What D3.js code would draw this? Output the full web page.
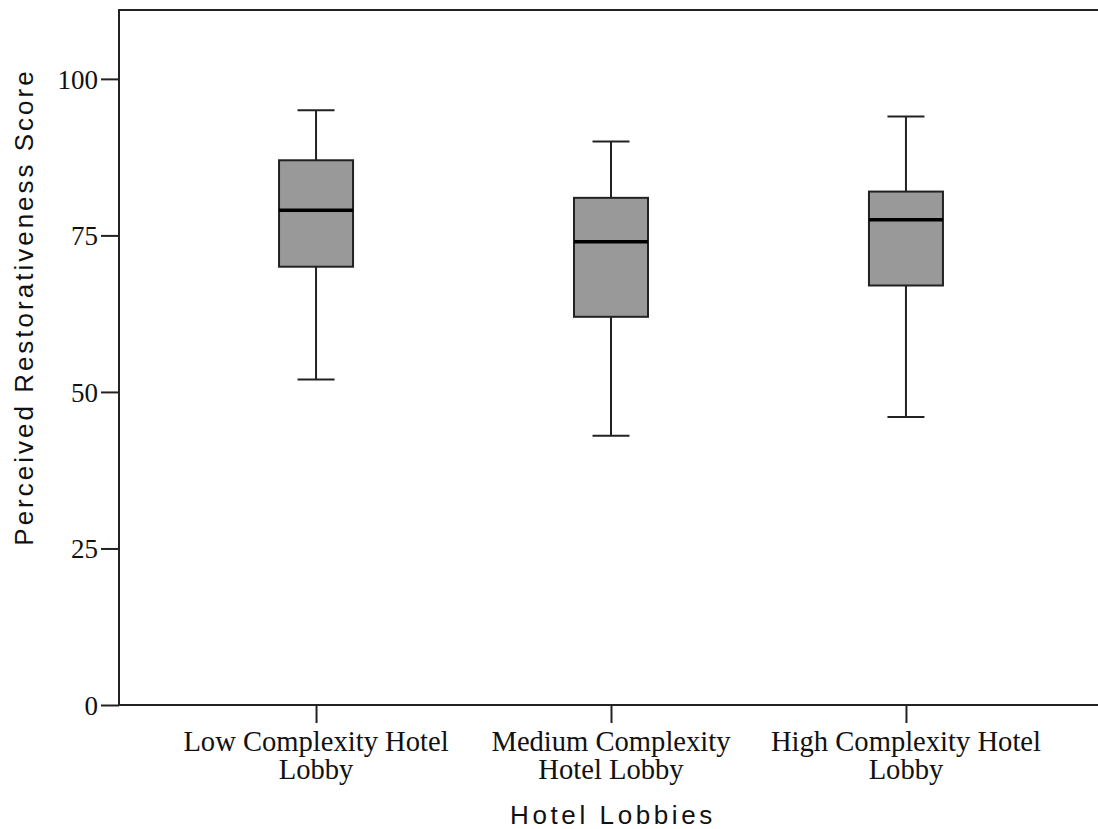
<!DOCTYPE html>
<html>
<head>
<meta charset="utf-8">
<script src="https://cdn.jsdelivr.net/npm/d3@7"></script>
<style>
  body { margin: 0; background: #fff; }
  svg { display: block; }
</style>
</head>
<body>
<svg id="chart" width="1098" height="829"></svg>
<script>
// box plot data
var categories = [
  ["Low Complexity Hotel", "Lobby"],
  ["Medium Complexity", "Hotel Lobby"],
  ["High Complexity Hotel", "Lobby"]
];
var whiskerLow = [52, 43, 46];
var q1 = [70, 62, 67];
var medians = [79, 74, 77.5];
var q3 = [87, 81, 82];
var whiskerHigh = [95, 90, 94];
var yTicks = [0, 25, 50, 75, 100];

var svg = d3.select("#chart");
var margin = { left: 119, top: 10, right: 1103, bottom: 705 };

var y = d3.scaleLinear().domain([0, 111]).range([margin.bottom, margin.top]);
var x = d3.scalePoint()
  .domain(d3.range(categories.length))
  .range([margin.left, margin.right])
  .padding(0.668);

var boxWidth = 74;
var capWidth = 37;

// frame
svg.append("rect")
  .attr("x", margin.left)
  .attr("y", margin.top)
  .attr("width", margin.right - margin.left)
  .attr("height", margin.bottom - margin.top)
  .attr("fill", "none")
  .attr("stroke", "#222")
  .attr("stroke-width", 2);

// y axis
var yAxis = svg.append("g")
  .attr("transform", "translate(" + margin.left + ",0)")
  .call(d3.axisLeft(y).tickValues(yTicks).tickSize(18).tickPadding(3).tickFormat(d3.format("d")));
yAxis.select(".domain").remove();
yAxis.selectAll("line").attr("stroke", "#222").attr("stroke-width", 2);
yAxis.selectAll("text")
  .attr("fill", "#111")
  .style("font-family", "'Liberation Serif', 'Times New Roman', serif")
  .style("font-size", "27px")
  .attr("dy", "0.34em");

// x axis
var xAxis = svg.append("g")
  .attr("transform", "translate(0," + margin.bottom + ")")
  .call(d3.axisBottom(x).tickSize(18).tickFormat(""));
xAxis.select(".domain").remove();
xAxis.selectAll("line").attr("stroke", "#222").attr("stroke-width", 2);

var labelG = svg.append("g")
  .style("font-family", "'Liberation Serif', 'Times New Roman', serif")
  .style("font-size", "28.6px")
  .attr("fill", "#111")
  .attr("text-anchor", "middle");
categories.forEach(function (lines, i) {
  var t = labelG.append("text").attr("x", x(i)).attr("y", 751);
  lines.forEach(function (line, j) {
    t.append("tspan").attr("x", x(i)).attr("dy", j === 0 ? 0 : 28).text(line);
  });
});

// boxes
var boxes = svg.append("g").selectAll("g")
  .data(d3.range(categories.length))
  .join("g");

boxes.append("line")
  .attr("x1", function (i) { return x(i); })
  .attr("x2", function (i) { return x(i); })
  .attr("y1", function (i) { return y(whiskerHigh[i]); })
  .attr("y2", function (i) { return y(whiskerLow[i]); })
  .attr("stroke", "#222")
  .attr("stroke-width", 2);

boxes.selectAll(".cap")
  .data(function (i) { return [[i, whiskerLow[i]], [i, whiskerHigh[i]]]; })
  .join("line")
  .attr("class", "cap")
  .attr("x1", function (d) { return x(d[0]) - capWidth / 2; })
  .attr("x2", function (d) { return x(d[0]) + capWidth / 2; })
  .attr("y1", function (d) { return y(d[1]); })
  .attr("y2", function (d) { return y(d[1]); })
  .attr("stroke", "#222")
  .attr("stroke-width", 2);

boxes.append("rect")
  .attr("x", function (i) { return x(i) - boxWidth / 2; })
  .attr("y", function (i) { return y(q3[i]); })
  .attr("width", boxWidth)
  .attr("height", function (i) { return y(q1[i]) - y(q3[i]); })
  .attr("fill", "#999999")
  .attr("stroke", "#222")
  .attr("stroke-width", 2);

boxes.append("line")
  .attr("x1", function (i) { return x(i) - boxWidth / 2; })
  .attr("x2", function (i) { return x(i) + boxWidth / 2; })
  .attr("y1", function (i) { return y(medians[i]); })
  .attr("y2", function (i) { return y(medians[i]); })
  .attr("stroke", "#000")
  .attr("stroke-width", 3.5);

// axis titles
svg.append("text")
  .attr("x", (margin.left + margin.right) / 2 + 2)
  .attr("y", 824)
  .attr("text-anchor", "middle")
  .style("font-family", "'Liberation Sans', Arial, sans-serif")
  .style("font-size", "26px")
  .style("letter-spacing", "3.6px")
  .attr("fill", "#111")
  .text("Hotel Lobbies");

svg.append("text")
  .attr("transform", "translate(33,307) rotate(-90)")
  .attr("text-anchor", "middle")
  .style("font-family", "'Liberation Sans', Arial, sans-serif")
  .style("font-size", "26px")
  .style("letter-spacing", "3px")
  .attr("fill", "#111")
  .text("Perceived Restorativeness Score");
</script>
</body>
</html>
